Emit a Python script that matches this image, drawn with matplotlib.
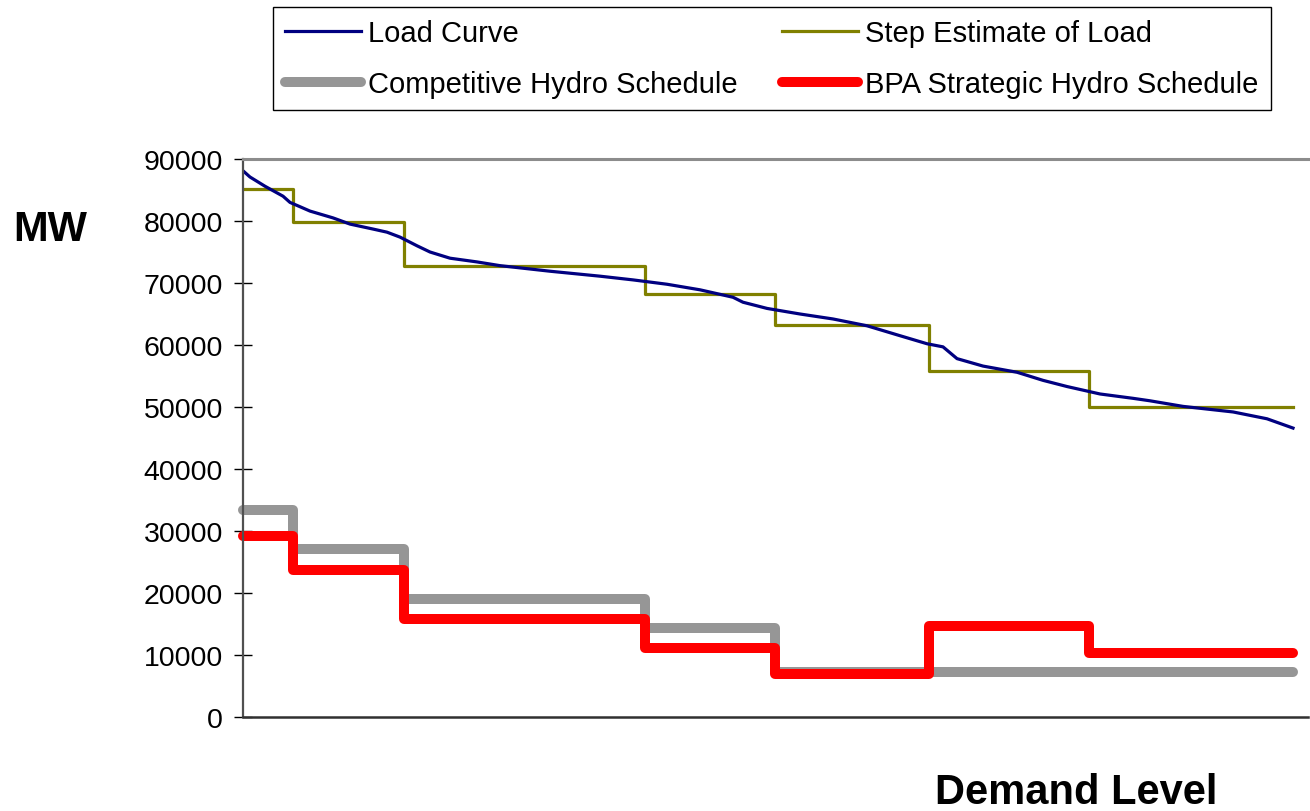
import matplotlib.pyplot as plt

plt.rcParams['font.family'] = ['Liberation Sans', 'DejaVu Sans']

# hours of the year, sorted by load (load duration curve)
load_hours = [0, 58, 184, 334, 392, 476, 559, 751, 893, 1085, 1201, 1310, 1452, 1560,
              1727, 1952, 2144, 2561, 2978, 3254, 3537, 3813, 4088, 4171, 4372, 4647,
              4922, 5206, 5481, 5707, 5840, 5957, 6174, 6458, 6674, 6875, 7150, 7425,
              7567, 7842, 8260, 8543, 8760]
load_mw = [88100, 87100, 85600, 84000, 83000, 82300, 81600, 80500, 79500, 78700, 78200,
           77400, 76000, 75000, 74000, 73400, 72800, 71900, 71100, 70500, 69800, 68900,
           67700, 66900, 65900, 65000, 64200, 63100, 61500, 60200, 59700, 57800, 56600,
           55600, 54300, 53300, 52100, 51400, 51000, 50100, 49200, 48100, 46600]

# demand level block edges (hours)
block_edges = [0, 420, 1340, 3350, 4440, 5720, 7060, 8760]
step_load = [85200, 79800, 72700, 68200, 63200, 55800, 50000]
competitive_hydro = [33400, 27100, 19000, 14300, 7200, 7200, 7200]
bpa_hydro = [29200, 23700, 15800, 11100, 6900, 14600, 10300]

fig = plt.figure(figsize=(13.1, 8.12), dpi=100)
ax = fig.add_axes([243 / 1310, 94 / 812, 1065 / 1310, 558 / 812])


def steps(vals):
    return vals + [vals[-1]]


round_kw = dict(solid_capstyle='round', solid_joinstyle='round', clip_on=False)
h_comp, = ax.step(block_edges, steps(competitive_hydro), where='post', color='#969696',
                  lw=7.2, label='Competitive Hydro Schedule', **round_kw)
h_bpa, = ax.step(block_edges, steps(bpa_hydro), where='post', color='#ff0000',
                 lw=7.2, label='BPA Strategic Hydro Schedule', **round_kw)
h_step, = ax.step(block_edges, steps(step_load), where='post', color='#808000',
                  lw=2.3, label='Step Estimate of Load')
h_load, = ax.plot(load_hours, load_mw, color='#000080', lw=2.3, label='Load Curve')

ax.set_xlim(0, 8885)
ax.set_ylim(0, 90000)
ax.set_yticks(range(0, 90001, 10000))
ax.set_xticks([])
ax.tick_params(axis='y', direction='inout', length=13, width=1, pad=8,
               labelsize=20.5, color='black')

ax.spines['right'].set_visible(False)
ax.spines['top'].set_color('#8c8c8c')
ax.spines['top'].set_linewidth(2.2)
ax.spines['left'].set_color('#505050')
ax.spines['left'].set_linewidth(1.6)
ax.spines['bottom'].set_color('#303030')
ax.spines['bottom'].set_linewidth(1.8)

fig.text(50 / 1310, 1 - 230 / 812, 'MW', fontsize=30, fontweight='bold',
         ha='center', va='center')
fig.text(1076 / 1310, 1 - 804 / 812, 'Demand Level', fontsize=30, fontweight='bold',
         ha='center', va='baseline')

leg = fig.legend(handles=[h_load, h_comp, h_step, h_bpa], ncol=2,
                 loc='upper left', bbox_to_anchor=(273 / 1310, 1 - 8 / 812),
                 borderaxespad=0, fontsize=21, fancybox=False, framealpha=1,
                 edgecolor='black', handlelength=2.6, handletextpad=0.25,
                 columnspacing=1.5, labelspacing=0.78, borderpad=0.42)
leg.get_frame().set_linewidth(1)

fig.savefig('out.png', dpi=100)
